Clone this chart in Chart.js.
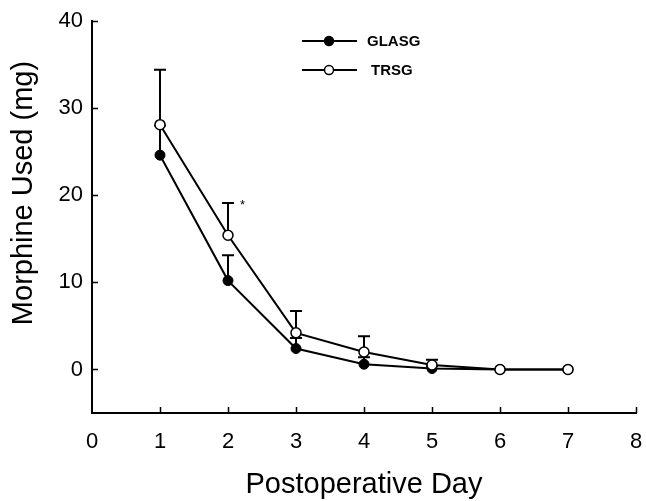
<!DOCTYPE html>
<html>
<head>
<meta charset="utf-8">
<script src="https://cdn.jsdelivr.net/npm/chart.js@4"></script>
<style>
  html, body { margin: 0; padding: 0; background: #fff; }
  #wrap { width: 646px; height: 501px; }
</style>
</head>
<body>
<div id="wrap"><canvas id="chart" width="646" height="501"></canvas></div>
<script>
const days = [1, 2, 3, 4, 5, 6, 7];
const glasg = [24.6, 10.2, 2.4, 0.6, 0.1, 0, 0];
const glasgErr = [28.0, 13.1, 3.6, 1.4, 0.4, 0, 0];   // upper end of the error bar
const trsg = [28.1, 15.4, 4.2, 2.0, 0.5, 0, 0];
const trsgErr = [34.4, 19.1, 6.7, 3.8, 1.1, 0, 0];
const xTicks = [0, 1, 2, 3, 4, 5, 6, 7, 8];
const yTicks = [0, 10, 20, 30, 40];
const yTitle = "Morphine Used (mg)";

const FONT = "Arial, 'Liberation Sans', sans-serif";

// error bars (upward only) drawn under the markers
const errorBars = {
  id: "errorBars",
  beforeDatasetsDraw(chart) {
    const c = chart.ctx, x = chart.scales.x, y = chart.scales.y;
    const draw = (vals, tops) => {
      vals.forEach((v, i) => {
        if (tops[i] <= v) return;
        const px = x.getPixelForValue(days[i]);
        const y0 = y.getPixelForValue(v);
        const y1 = y.getPixelForValue(tops[i]);
        c.beginPath();
        c.moveTo(px, y0); c.lineTo(px, y1);
        c.moveTo(px - 6, y1); c.lineTo(px + 6, y1);
        c.stroke();
      });
    };
    c.save();
    c.strokeStyle = "#000";
    c.lineWidth = 2;
    draw(glasg, glasgErr);
    draw(trsg, trsgErr);
    c.restore();
  }
};

// inward tick marks, y title, asterisk and legend
const extras = {
  id: "extras",
  afterDraw(chart) {
    const c = chart.ctx, x = chart.scales.x, y = chart.scales.y;
    const a = chart.chartArea;
    c.save();
    c.strokeStyle = "#000";
    c.lineWidth = 1.5;
    c.beginPath();
    yTicks.forEach(v => {
      const py = Math.round(y.getPixelForValue(v)) + 0.5;
      c.moveTo(a.left, py); c.lineTo(a.left + 6, py);
    });
    xTicks.forEach(v => {
      if (v === 0) return;
      const px = Math.round(x.getPixelForValue(v)) + 0.5;
      c.moveTo(px, a.bottom); c.lineTo(px, a.bottom - 6);
    });
    c.stroke();

    // y axis title (sits a little above the middle of the axis)
    c.save();
    c.translate(24, 193);
    c.rotate(-Math.PI / 2);
    c.fillStyle = "#000";
    c.font = "29px " + FONT;
    c.textAlign = "center";
    c.textBaseline = "middle";
    c.fillText(yTitle, 0, 0);
    c.restore();

    // significance mark at day 2
    c.fillStyle = "#000";
    c.font = "13px " + FONT;
    c.textAlign = "left";
    c.textBaseline = "middle";
    c.fillText("*", x.getPixelForValue(2) + 12, y.getPixelForValue(trsgErr[1]) + 2);

    // legend
    const items = [
      { label: "GLASG", fill: "#000", yy: 41, tx: 367 },
      { label: "TRSG", fill: "#fff", yy: 70, tx: 371 }
    ];
    c.font = "bold 15px " + FONT;
    items.forEach(it => {
      c.lineWidth = 2;
      c.beginPath();
      c.moveTo(302, it.yy); c.lineTo(357, it.yy);
      c.stroke();
      c.beginPath();
      c.arc(329, it.yy, 4.5, 0, Math.PI * 2);
      c.fillStyle = it.fill;
      c.fill();
      c.lineWidth = 1.5;
      c.stroke();
      c.fillStyle = "#000";
      c.fillText(it.label, it.tx, it.yy + 1);
    });
    c.restore();
  }
};

new Chart(document.getElementById("chart"), {
  type: "line",
  data: {
    datasets: [
      {
        label: "TRSG",
        data: days.map((d, i) => ({ x: d, y: trsg[i] })),
        borderColor: "#000",
        borderWidth: 2,
        pointRadius: 5,
        pointBackgroundColor: "#fff",
        pointBorderColor: "#000",
        pointBorderWidth: 1.5,
        tension: 0
      },
      {
        label: "GLASG",
        data: days.map((d, i) => ({ x: d, y: glasg[i] })),
        borderColor: "#000",
        borderWidth: 2,
        pointRadius: 5,
        pointBackgroundColor: "#000",
        pointBorderColor: "#000",
        pointBorderWidth: 1,
        tension: 0
      }
    ]
  },
  options: {
    responsive: false,
    animation: false,
    layout: { padding: { top: 21, right: 10, left: 0, bottom: 0 } },
    plugins: {
      legend: { display: false },
      tooltip: { enabled: false }
    },
    scales: {
      x: {
        type: "linear",
        min: 0,
        max: 8,
        afterBuildTicks: s => { s.ticks = xTicks.map(v => ({ value: v })); },
        afterFit: s => { s.height = 88; s.paddingLeft = 0; s.paddingRight = 0; },
        grid: { display: false, drawTicks: false },
        border: { display: true, color: "#000", width: 2 },
        ticks: {
          color: "#000",
          padding: 16,
          font: { family: FONT, size: 22 }
        },
        title: {
          display: true,
          text: "Postoperative Day",
          color: "#000",
          padding: { top: 4, bottom: -1 },
          font: { family: FONT, size: 29 }
        }
      },
      y: {
        type: "linear",
        min: -5,
        max: 40,
        afterBuildTicks: s => { s.ticks = yTicks.map(v => ({ value: v })); },
        afterFit: s => { s.width = 92; s.paddingTop = 0; s.paddingBottom = 0; },
        grid: { display: false, drawTicks: false },
        border: { display: true, color: "#000", width: 2 },
        ticks: {
          color: "#000",
          padding: 9,
          font: { family: FONT, size: 22 }
        },
        title: { display: false }
      }
    }
  },
  plugins: [errorBars, extras]
});
</script>
</body>
</html>
